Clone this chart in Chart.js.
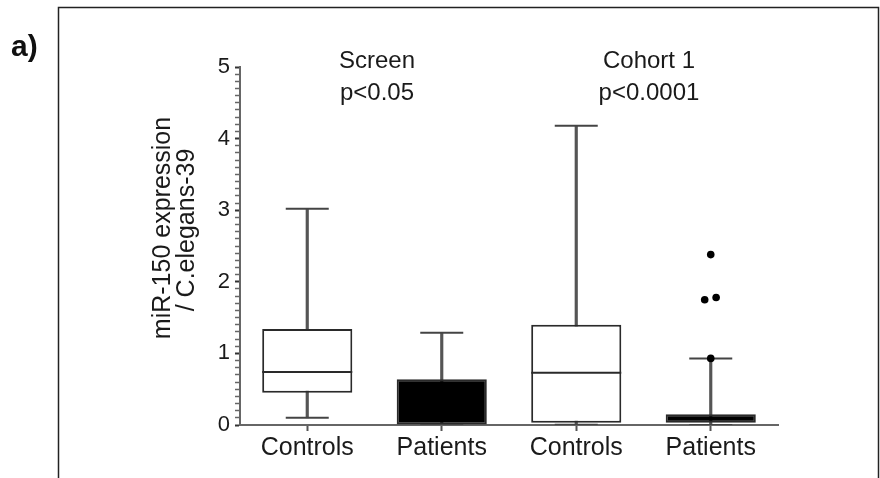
<!DOCTYPE html>
<html>
<head>
<meta charset="utf-8">
<script src="https://cdn.jsdelivr.net/npm/chart.js@4/dist/chart.umd.min.js"></script>
<style>
  html, body { margin: 0; padding: 0; background: #fff; }
  #wrap { width: 880px; height: 478px; }
</style>
</head>
<body>
<div id="wrap"><canvas id="c" width="880" height="478"></canvas></div>
<script>
// ---- data ----
const categories   = ['Controls', 'Patients', 'Controls', 'Patients'];
const whiskerLow   = [0.10, 0.00, 0.005, 0.00];
const q1           = [0.45, 0.00, 0.03, 0.03];
const medians      = [0.74, 0.30, 0.73, 0.07];
const q3           = [1.34, 0.64, 1.40, 0.15];
const whiskerHigh  = [3.02, 1.29, 4.18, 0.93];
const boxFill      = ['#ffffff', '#000000', '#ffffff', '#000000'];
const outlierX     = [3, 2.955, 3.04, 3];      // category index (with small jitter)
const outlierY     = [2.38, 1.75, 1.78, 0.93];
const yMin = 0, yMax = 5, yMinorStep = 0.1;
const groupLabels  = [['Screen', 'p<0.05'], ['Cohort 1', 'p<0.0001']];
const yTitle       = ['miR-150 expression', '/ C.elegans-39'];

const idx = categories.map((_, i) => i);
const FONT = '"Liberation Sans", Arial, sans-serif';

const decorPlugin = {
  id: 'decor',
  afterDraw(chart) {
    const ctx = chart.ctx;
    ctx.save();
    // frame
    ctx.strokeStyle = '#222';
    ctx.lineWidth = 1.5;
    ctx.strokeRect(58.5, 7.5, 820, 520);
    // panel letter
    ctx.fillStyle = '#111';
    ctx.font = 'bold 30px ' + FONT;
    ctx.textAlign = 'left';
    ctx.textBaseline = 'alphabetic';
    ctx.fillText('a)', 11, 56);
    // group annotations
    ctx.fillStyle = '#1a1a1a';
    ctx.font = '24px ' + FONT;
    ctx.textAlign = 'center';
    const gx = [377, 649];
    groupLabels.forEach((lines, g) => {
      ctx.fillText(lines[0], gx[g], 68);
      ctx.fillText(lines[1], gx[g], 100);
    });
    // y title (two rotated lines)
    ctx.font = '25px ' + FONT;
    ctx.textBaseline = 'middle';
    [[163, 228], [187, 230]].forEach((p, k) => {
      ctx.save();
      ctx.translate(p[0], p[1]);
      ctx.rotate(-Math.PI / 2);
      ctx.fillText(yTitle[k], 0, 0);
      ctx.restore();
    });
    ctx.restore();
  }
};

const lineCol = '#2a2a2a';

new Chart(document.getElementById('c'), {
  data: {
    labels: categories,
    datasets: [
      { // outliers
        type: 'scatter', xAxisID: 'xs', order: 0,
        data: outlierX.map((x, i) => ({ x: x, y: outlierY[i] })),
        pointStyle: 'circle', pointRadius: 3.8,
        backgroundColor: '#000', borderColor: '#000', borderWidth: 0
      },
      { // medians (hidden inside filled boxes)
        type: 'scatter', xAxisID: 'xs', order: 1,
        data: idx.map(i => ({ x: i, y: medians[i] })),
        pointStyle: 'line',
        pointRadius: boxFill.map(f => f === '#000000' ? 0 : 45),
        borderColor: lineCol, borderWidth: 2
      },
      { // whisker caps high
        type: 'scatter', xAxisID: 'xs', order: 1,
        data: idx.map(i => ({ x: i, y: whiskerHigh[i] })),
        pointStyle: 'line', pointRadius: 21.5,
        borderColor: '#444', borderWidth: 2
      },
      { // whisker caps low
        type: 'scatter', xAxisID: 'xs', order: 1,
        data: idx.map(i => ({ x: i, y: whiskerLow[i] })),
        pointStyle: 'line', pointRadius: 21.5,
        borderColor: '#444', borderWidth: 2
      },
      { // boxes
        type: 'bar', order: 2, grouped: false,
        data: idx.map(i => [q1[i], q3[i]]),
        backgroundColor: boxFill, borderColor: lineCol, borderWidth: 2,
        borderSkipped: false, barPercentage: 0.67, categoryPercentage: 1
      },
      { // whisker stems
        type: 'bar', order: 3, grouped: false,
        data: idx.map(i => [whiskerLow[i], whiskerHigh[i]]),
        backgroundColor: '#555', borderWidth: 0, barThickness: 2.5
      }
    ]
  },
  options: {
    responsive: false,
    animation: false,
    events: [],
    layout: { padding: { top: 67, right: 102, left: 0, bottom: 0 } },
    plugins: { legend: { display: false }, tooltip: { enabled: false }, title: { display: false } },
    scales: {
      x: {
        type: 'category',
        offset: true,
        grid: { drawOnChartArea: false, drawTicks: true, offset: false, tickLength: 6, tickColor: '#555', tickWidth: 2 },
        border: { display: true, color: '#666', width: 2 },
        ticks: { color: '#1a1a1a', padding: 2, font: { family: FONT, size: 25 }, maxRotation: 0, autoSkip: false },
        afterFit(s) { s.height = 478 - 425; }
      },
      xs: {
        type: 'linear', display: false, min: -0.5, max: 3.5
      },
      y: {
        type: 'linear', min: yMin, max: yMax,
        grid: {
          drawOnChartArea: false, drawTicks: true, tickLength: 5,
          tickColor: (c) => (c.tick && Math.abs(c.tick.value - Math.round(c.tick.value)) < 1e-6) ? '#333' : '#666',
          tickWidth: (c) => (c.tick && Math.abs(c.tick.value - Math.round(c.tick.value)) < 1e-6) ? 2 : 1.5
        },
        border: { display: true, color: '#666', width: 2 },
        ticks: {
          stepSize: yMinorStep, autoSkip: false, padding: 5, color: '#1a1a1a',
          font: { family: FONT, size: 22 },
          callback: (v) => Math.abs(v - Math.round(v)) < 1e-6 ? String(Math.round(v)) : ''
        },
        afterFit(s) { s.width = 240; }
      }
    }
  },
  plugins: [decorPlugin]
});
</script>
</body>
</html>
